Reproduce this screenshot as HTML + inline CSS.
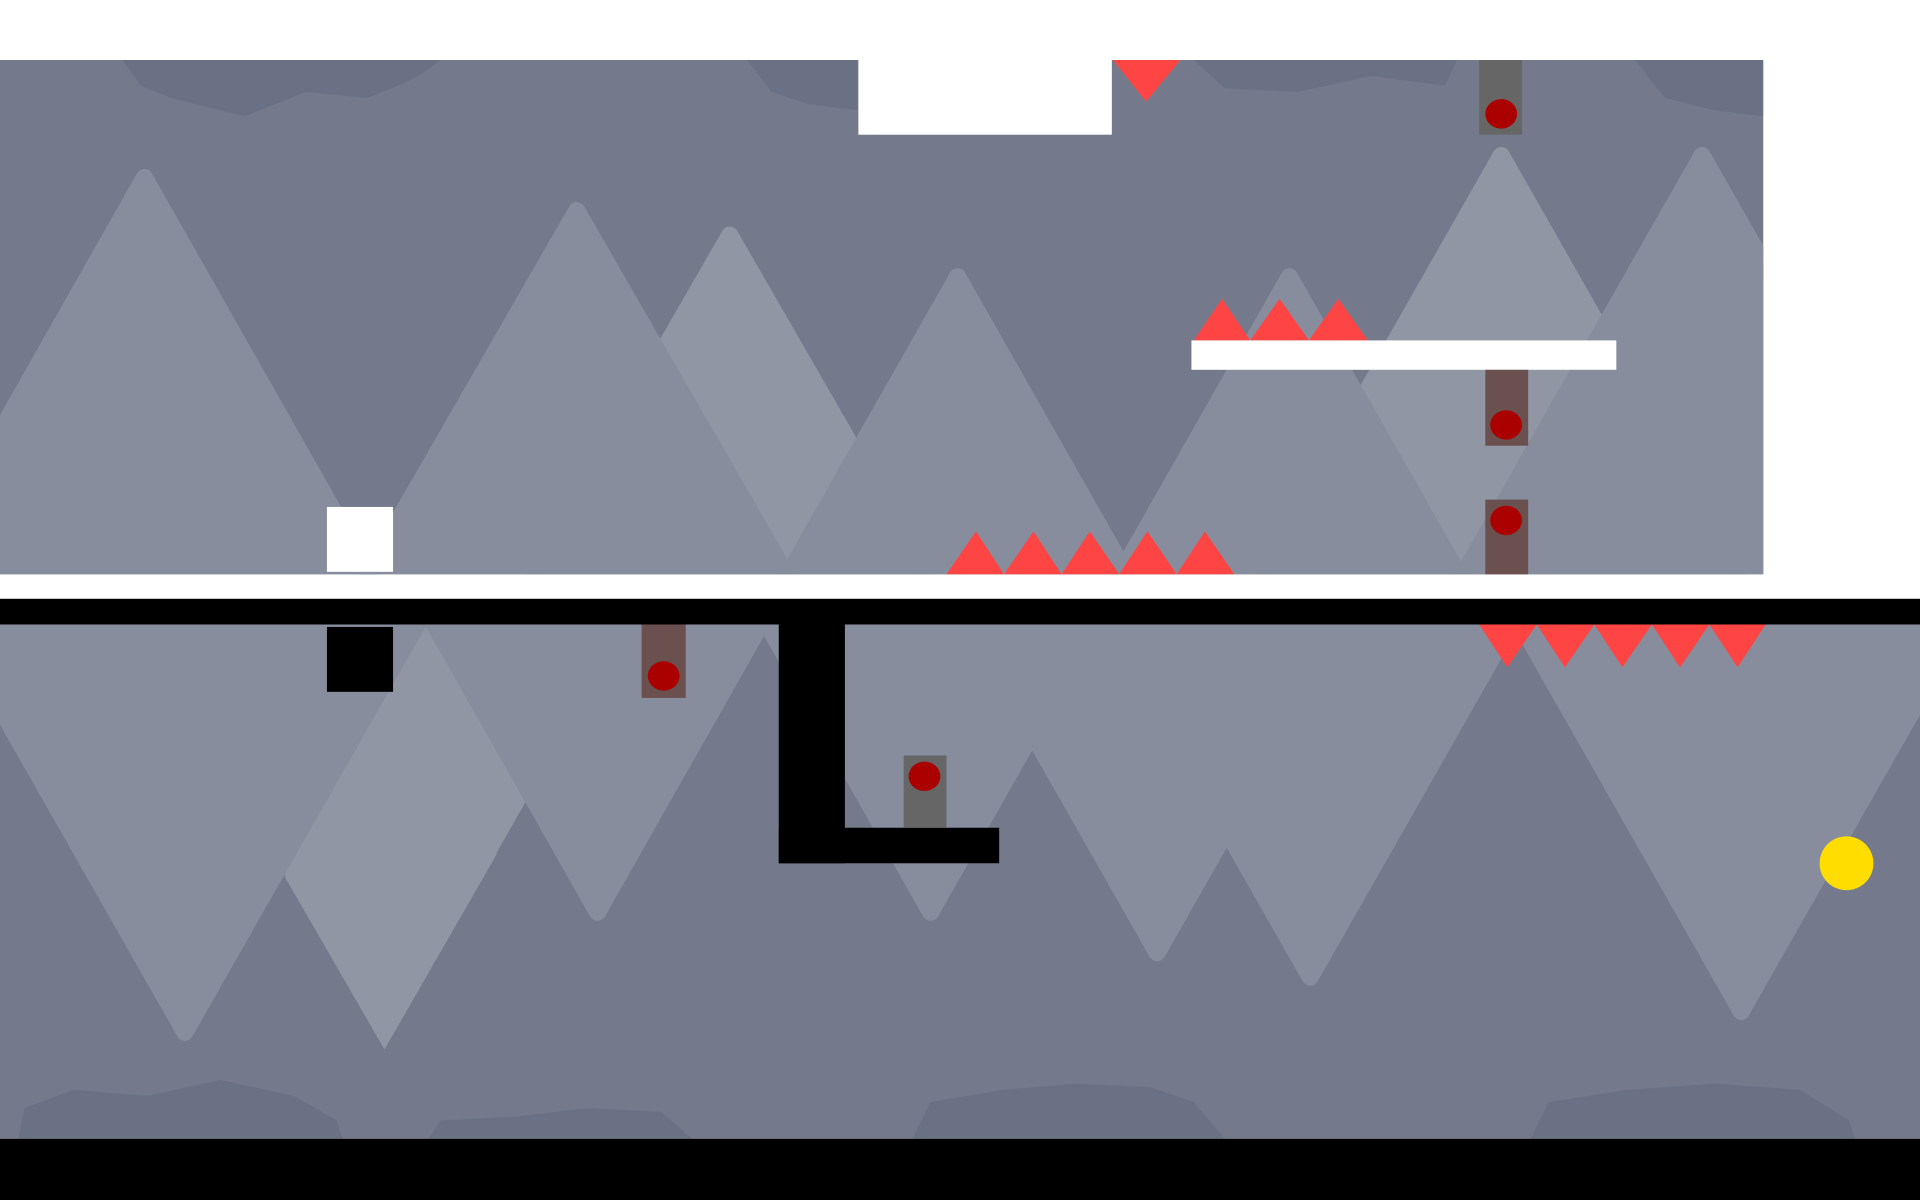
<!DOCTYPE html>
<html><head><meta charset="utf-8"><style>
html,body{margin:0;padding:0;background:#fff;overflow:hidden}
svg{display:block}
</style></head><body>
<svg width="1920" height="1200" viewBox="0 0 1568 980" preserveAspectRatio="none" xmlns="http://www.w3.org/2000/svg">
<defs>
<clipPath id="top"><rect x="0" y="49" width="1440" height="420"/></clipPath>
<clipPath id="bot"><rect x="0" y="510" width="1568" height="420"/></clipPath>
</defs>
<rect width="1568" height="980" fill="#fff"/>
<rect x="0" y="49" width="1440" height="420" fill="#747a8c"/>
<g clip-path="url(#top)" stroke-linejoin="round" stroke-width="14">
<polygon points="596,192 338,640 854,640" fill="#9196a4" stroke="#9196a4"/>
<polygon points="1226,127 968,580 1484,580" fill="#9196a4" stroke="#9196a4"/>
<polygon points="118,145 -140,600 376,600" fill="#878d9d" stroke="#878d9d"/>
<polygon points="471,172 213,620 729,620" fill="#878d9d" stroke="#878d9d"/>
<polygon points="782,226 524,680 1040,680" fill="#878d9d" stroke="#878d9d"/>
<polygon points="1053,226 795,680 1311,680" fill="#878d9d" stroke="#878d9d"/>
<polygon points="1390,127 1132,580 1648,580" fill="#878d9d" stroke="#878d9d"/>
</g>
<g clip-path="url(#top)" fill="#6a7185">
<path d="M100,49 L360,49 L345,60 L330,68 L300,80 L250,75 L200,95 L160,85 L140,80 L115,70 Z"/>
<path d="M610,49 L700,49 L700,90 L660,85 L630,75 Z"/>
<path d="M975,49 L1190,49 L1180,70 L1120,62 L1060,75 L1000,72 Z"/>
<path d="M1335,49 L1440,49 L1440,95 L1400,90 L1360,80 Z"/>
</g>
<rect x="0" y="510" width="1568" height="420" fill="#747a8c"/>
<g clip-path="url(#bot)" stroke-linejoin="round" stroke-width="14">
<polygon points="314,843 56,390 572,390" fill="#9196a4" stroke="#9196a4"/>
<polygon points="945,778 687,325 1203,325" fill="#878d9d" stroke="#878d9d"/>
<polygon points="151,843 -107,390 409,390" fill="#878d9d" stroke="#878d9d"/>
<polygon points="488,745 230,290 746,290" fill="#878d9d" stroke="#878d9d"/>
<polygon points="760,745 502,290 1018,290" fill="#878d9d" stroke="#878d9d"/>
<polygon points="1070,798 812,345 1328,345" fill="#878d9d" stroke="#878d9d"/>
<polygon points="1422,826 1164,373 1680,373" fill="#878d9d" stroke="#878d9d"/>
</g>
<g clip-path="url(#bot)">
<polygon points="243,697 406,697 314,857 232.5,716" fill="#9196a4"/>
</g>
<g clip-path="url(#bot)" fill="#6a7185">
<path d="M15,930 L20,905 L60,890 L120,895 L180,882 L240,895 L275,915 L280,930 Z"/>
<path d="M350,930 L360,915 L420,912 L480,905 L540,908 L565,930 Z"/>
<path d="M745,930 L760,900 L820,890 L880,885 L940,888 L975,900 L1000,930 Z"/>
<path d="M1250,930 L1265,900 L1330,890 L1400,885 L1470,890 L1510,915 L1515,930 Z"/>
</g>
<rect x="0" y="489" width="1568" height="21" fill="#000"/>
<rect x="0" y="930" width="1568" height="50" fill="#000"/>
<rect x="701" y="49" width="207" height="61" fill="#fff"/>
<polygon points="909,49 964,49 936,83" fill="#ff4444"/>
<rect x="1208" y="49" width="35" height="61" fill="#666"/>
<ellipse cx="1226" cy="93" rx="13" ry="12" fill="#aa0000"/>
<g fill="#ff4444">
<polygon points="975,278 998,244 1021,278"/>
<polygon points="1021,278 1045,244 1069,278"/>
<polygon points="1069,278 1093,244 1117,278"/>
</g>
<rect x="973" y="278" width="347" height="24" fill="#fff"/>
<rect x="1213" y="302" width="35" height="62" fill="#6b5050"/>
<ellipse cx="1230" cy="347" rx="13" ry="12" fill="#aa0000"/>
<rect x="1213" y="408" width="35" height="61" fill="#6b5050"/>
<ellipse cx="1230" cy="425" rx="13" ry="12" fill="#aa0000"/>
<rect x="267" y="414" width="54" height="53" fill="#fff"/>
<g fill="#ff4444">
<polygon points="773,469 797,434 820,469"/>
<polygon points="820,469 844,434 867,469"/>
<polygon points="867,469 890,434 914,469"/>
<polygon points="914,469 937,434 961,469"/>
<polygon points="961,469 984,434 1008,469"/>
</g>
<rect x="267" y="512" width="54" height="53" fill="#000"/>
<rect x="524" y="510" width="36" height="60" fill="#6b5050"/>
<ellipse cx="542" cy="552" rx="13" ry="12" fill="#aa0000"/>
<rect x="636" y="510" width="54" height="195" fill="#000"/>
<rect x="636" y="676" width="180" height="29" fill="#000"/>
<rect x="738" y="617" width="35" height="59" fill="#666"/>
<ellipse cx="755" cy="634" rx="13" ry="12" fill="#aa0000"/>
<g fill="#ff4444">
<polygon points="1208,510 1255,510 1231,545"/>
<polygon points="1255,510 1302,510 1278,545"/>
<polygon points="1302,510 1349,510 1325,545"/>
<polygon points="1349,510 1396,510 1372,545"/>
<polygon points="1396,510 1442,510 1419,545"/>
</g>
<circle cx="1508" cy="705" r="22" fill="#ffdd00"/>
</svg>
</body></html>
